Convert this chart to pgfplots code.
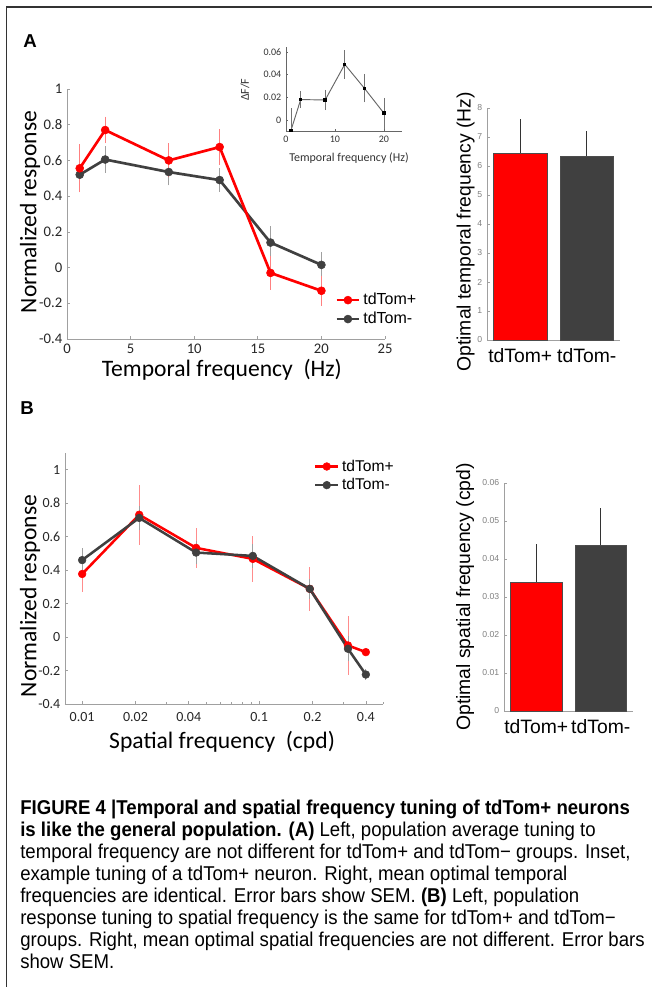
\documentclass[border=0pt]{standalone}
\usepackage{fontspec}
\usepackage{pgfplots}
\pgfplotsset{compat=1.18}
\setmainfont{Liberation Sans}
\newfontfamily\calfont{Carlito}
\newfontfamily\arifont{Liberation Sans}
\newfontfamily\capfont[FakeStretch=0.93]{Liberation Sans}
\definecolor{tdred}{RGB}{255,0,0}
\definecolor{tdgray}{RGB}{64,64,64}
\definecolor{axgray}{RGB}{160,160,160}

\pgfplotsset{
  matlab/.style={
    scale only axis, anchor=south west,
    axis x line*=bottom, axis y line*=left,
    axis line style={-, axgray, line width=0.6pt},
    tick align=inside, major tick length=2.5pt, minor tick length=1.5pt,
    tick style={axgray, line width=0.5pt},
    scaled ticks=false,
    clip=false,
  },
}

\begin{document}
\begin{tikzpicture}
\path[use as bounding box] (0,0) rectangle (489pt,740.25pt);
% frame
\draw[line width=1pt, black!80] (4.8pt,0pt) -- (4.8pt,735pt) -- (489pt,735pt);
\node[font=\arifont\bfseries\fontsize{14}{16}\selectfont] at (22.5pt,709.5pt) {A};
\node[font=\arifont\bfseries\fontsize{14}{16}\selectfont] at (20.25pt,434.25pt) {B};

% ---------- A left: temporal frequency tuning
\begin{axis}[matlab,
  at={(50.25pt,486pt)}, width=238.5pt, height=187.5pt,
  xmin=0, xmax=25, ymin=-0.4, ymax=1,
  xtick={0,5,10,15,20,25}, xticklabels={0,5,10,15,20,25},
  ytick={-0.4,-0.2,0,0.2,0.4,0.6,0.8,1},
  yticklabels={-0.4,-0.2,0,0.2,0.4,0.6,0.8,1},
  ticklabel style={font=\calfont\fontsize{11}{13}\selectfont, text=black!85},
  xlabel={Temporal frequency\ \ (Hz)}, ylabel={Normalized response},
  label style={font=\calfont\fontsize{17.7}{20}\selectfont},
  xlabel style={at={(axis description cs:0.487,-0.124)}, anchor=center},
  ylabel style={at={(axis description cs:-0.116,0.508)}, anchor=center},
  legend style={draw=none, fill=none, at={(axis description cs:0.83,0.205)},
    anchor=north west, font=\arifont\fontsize{12}{14}\selectfont, row sep=0pt},
  legend cell align=left,
]
\addplot[forget plot, tdgray, line width=2pt, mark=*, mark size=3pt,
  mark options={line width=0.4pt, fill=tdgray},
  error bars/.cd, y dir=both, y explicit,
  error bar style={axgray, line width=0.6pt},
  error mark options={axgray, mark size=2pt, line width=0.6pt}]
coordinates {
  (1,0.52) +- (0,0.055)
  (3,0.605) +- (0,0.06)
  (8,0.535) +- (0,0.06)
  (12,0.49) +- (0,0.05)
  (16,0.14) +- (0,0.075)
  (20,0.015) +- (0,0.055)
};
\addplot[tdred, line width=2pt, mark=*, mark size=3pt,
  mark options={line width=0.4pt, fill=tdred},
  error bars/.cd, y dir=both, y explicit,
  error bar style={tdred!50, line width=0.6pt},
  error mark options={tdred!50, mark size=2pt, line width=0.6pt}]
coordinates {
  (1,0.556) +- (0,0.12)
  (3,0.77) +- (0,0.06)
  (8,0.60) +- (0,0.08)
  (12,0.675) +- (0,0.085)
  (16,-0.03) +- (0,0.08)
  (20,-0.13) +- (0,0.07)
};
\addlegendentry{tdTom+}
\addlegendimage{tdgray, line width=2pt, mark=*, mark size=3pt,
  mark options={line width=0.4pt, fill=tdgray}}
\addlegendentry{tdTom-}
\end{axis}

% ---------- A inset: example neuron
\begin{axis}[matlab,
  at={(214.5pt,642pt)}, width=87pt, height=63pt,
  clip=true,
  axis line style={-, black!60, line width=0.5pt}, tick style={black!60},
  major tick length=1.5pt,
  xmin=0, xmax=23.7, ymin=-0.0097, ymax=0.0643,
  xtick={0,10,20}, xticklabels={0,10,20},
  ytick={0,0.02,0.04,0.06}, yticklabels={0,0.02,0.04,0.06},
  ticklabel style={font=\calfont\fontsize{7.5}{9}\selectfont, text=black!80},
  xlabel={Temporal frequency (Hz)}, ylabel={ΔF/F},
  label style={font=\calfont\fontsize{9}{11}\selectfont, text=black!80},
  xlabel style={at={(axis description cs:0.543,-0.32)}, anchor=center},
  ylabel style={at={(axis description cs:-0.353,0.49)}, anchor=center},
]
\addplot[black!60, line width=0.7pt, mark=square*, mark size=0.9pt,
  mark options={black},
  error bars/.cd, y dir=both, y explicit,
  error bar style={black!55, line width=0.5pt},
  error mark options={black!55, mark size=1.3pt, line width=0.5pt}]
coordinates {
  (1,-0.0094) +- (0,0.018)
  (3,0.018) +- (0,0.006)
  (8,0.0176) +- (0,0.0075)
  (12,0.049) +- (0,0.011)
  (16,0.028) +- (0,0.011)
  (20,0.006) +- (0,0.012)
};
\end{axis}

% ---------- A right: optimal temporal frequency
\begin{axis}[matlab,
  at={(365.25pt,485.25pt)}, width=99.75pt, height=174pt,
  xmin=0.5, xmax=2.5, ymin=0, ymax=8,
  ybar, bar width=0.8, bar shift=0pt,
  xtick={1,2}, xticklabels={tdTom+,tdTom-}, xtick style={draw=none},
  ytick={0,1,2,3,4,5,6,7,8}, yticklabels={0,1,2,3,4,5,6,7,8},
  xticklabel style={font=\arifont\fontsize{14.5}{16}\selectfont, text=black},
  yticklabel style={font=\arifont\fontsize{6.5}{8}\selectfont, text=gray},
  ylabel={Optimal temporal frequency (Hz)},
  ylabel style={font=\arifont\fontsize{14.5}{16}\selectfont,
    at={(axis description cs:-0.16,0.466)}, anchor=center},
]
\addplot[fill=tdred, draw=black!70, line width=0.4pt,
  error bars/.cd, y dir=plus, y explicit, error mark=none,
  error bar style={black!80, line width=0.5pt}]
coordinates {(1,6.45) +- (0,1.17)};
\addplot[fill=tdgray, draw=black!70, line width=0.4pt,
  error bars/.cd, y dir=plus, y explicit, error mark=none,
  error bar style={black!80, line width=0.5pt}]
coordinates {(2,6.35) +- (0,0.85)};
\end{axis}

% ---------- B left: spatial frequency tuning
\begin{axis}[matlab,
  at={(48.75pt,212.25pt)}, width=238.5pt, height=188.25pt,
  xmode=log, xmin=0.008, xmax=0.5, ymin=-0.4, ymax=1.1,
  xtick={0.01,0.02,0.04,0.1,0.2,0.4},
  xticklabels={0.01,0.02,0.04,0.1,0.2,0.4},
  minor xtick={0.03,0.05,0.06,0.07,0.08,0.09,0.3,0.5},
  ytick={-0.4,-0.2,0,0.2,0.4,0.6,0.8,1},
  yticklabels={-0.4,-0.2,0,0.2,0.4,0.6,0.8,1},
  ticklabel style={font=\calfont\fontsize{10.5}{12}\selectfont, text=black!85},
  xticklabel style={yshift=-3pt},
  xlabel={Spatial frequency\ \ (cpd)}, ylabel={Normalized response},
  label style={font=\calfont\fontsize{17.7}{20}\selectfont},
  xlabel style={at={(axis description cs:0.494,-0.151)}, anchor=center},
  ylabel style={at={(axis description cs:-0.11,0.43)}, anchor=center},
  legend style={draw=none, fill=none, at={(axis description cs:0.77,0.995)},
    anchor=north west, font=\arifont\fontsize{11.7}{13}\selectfont, row sep=0pt},
  legend cell align=left,
]
\addplot[tdred, line width=1.9pt, mark=*, mark size=2.9pt,
  mark options={line width=0.4pt, fill=tdred},
  error bars/.cd, y dir=both, y explicit, error mark=none,
  error bar style={tdred!45, line width=0.6pt}]
coordinates {
  (0.01,0.377) +- (0,0.11)
  (0.021,0.731) +- (0,0.18)
  (0.044,0.533) +- (0,0.12)
  (0.092,0.467) +- (0,0.135)
  (0.193,0.288) +- (0,0.13)
  (0.317,-0.05) +- (0,0.175)
  (0.4,-0.09) +- (0,0.02)
};
\addlegendentry{tdTom+}
\addplot[tdgray, line width=1.9pt, mark=*, mark size=2.9pt,
  mark options={line width=0.4pt, fill=tdgray},
  error bars/.cd, y dir=both, y explicit, error mark=none,
  error bar style={axgray, line width=0.6pt}]
coordinates {
  (0.01,0.46) +- (0,0.075)
  (0.021,0.712) +- (0,0.07)
  (0.044,0.505) +- (0,0.07)
  (0.092,0.485) +- (0,0.07)
  (0.193,0.288) +- (0,0.06)
  (0.317,-0.07) +- (0,0.075)
  (0.4,-0.224) +- (0,0.035)
};
\addlegendentry{tdTom-}
\end{axis}

% ---------- B right: optimal spatial frequency
\begin{axis}[matlab,
  at={(378pt,207pt)}, width=96.75pt, height=171pt,
  xmin=0.5, xmax=2.5, ymin=0, ymax=0.06,
  ybar, bar width=0.8, bar shift=0pt,
  xtick={1,2}, xticklabels={tdTom+,tdTom-}, xtick style={draw=none},
  ytick={0,0.01,0.02,0.03,0.04,0.05,0.06},
  yticklabels={0,0.01,0.02,0.03,0.04,0.05,0.06},
  xticklabel style={font=\arifont\fontsize{14.5}{16}\selectfont, text=black},
  yticklabel style={font=\arifont\fontsize{6.5}{8}\selectfont, text=gray},
  ylabel={Optimal spatial frequency (cpd)},
  ylabel style={font=\arifont\fontsize{14.5}{16}\selectfont,
    at={(axis description cs:-0.302,0.5)}, anchor=center},
]
\addplot[fill=tdred, draw=black!70, line width=0.4pt,
  error bars/.cd, y dir=plus, y explicit, error mark=none,
  error bar style={black!80, line width=0.5pt}]
coordinates {(1,0.034) +- (0,0.0099)};
\addplot[fill=tdgray, draw=black!70, line width=0.4pt,
  error bars/.cd, y dir=plus, y explicit, error mark=none,
  error bar style={black!80, line width=0.5pt}]
coordinates {(2,0.0437) +- (0,0.0096)};
\end{axis}

% ---------- caption
\node[anchor=north west, align=left, inner sep=0pt,
  font=\capfont\fontsize{15}{16.5}\selectfont] at (15pt,140.6pt) {%
\textbf{FIGURE 4 |Temporal and spatial frequency tuning of tdTom+ neurons}\\
\textbf{is like the general population. (A)} Left, population average tuning to\\
temporal frequency are not different for tdTom+ and tdTom− groups. Inset,\\
example tuning of a tdTom+ neuron. Right, mean optimal temporal\\
frequencies are identical. Error bars show SEM. \textbf{(B)} Left, population\\
response tuning to spatial frequency is the same for tdTom+ and tdTom−\\
groups. Right, mean optimal spatial frequencies are not different. Error bars\\
show SEM.};
\end{tikzpicture}
\end{document}
